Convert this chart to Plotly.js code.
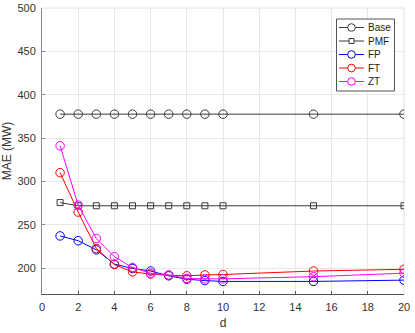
<!DOCTYPE html>
<html>
<head>
<meta charset="utf-8">
<script src="https://cdn.plot.ly/plotly-3.0.1.min.js"></script>
<style>html,body{margin:0;padding:0;background:#fff;}#chart{width:415px;height:333px;}</style>
</head>
<body>
<div id="chart"></div>
<script>
const dValues = [1, 2, 3, 4, 5, 6, 7, 8, 9, 10, 15, 20];
const baseMAE = [377.5, 377.5, 377.5, 377.5, 377.5, 377.5, 377.5, 377.5, 377.5, 377.5, 377.5, 377.5];
const pmfMAE  = [275.5, 271.8, 271.8, 271.8, 271.8, 271.8, 271.8, 271.8, 271.8, 271.8, 271.8, 271.8];
const fpMAE   = [237, 231.5, 221, 204.5, 199.5, 196.5, 191, 187, 185.5, 184.5, 184.5, 186];
const ftMAE   = [310, 264.5, 222.5, 204, 195.5, 193, 191.5, 191, 192, 192.5, 196.5, 198.5];
const ztMAE   = [341, 272.5, 234, 213, 200.5, 194, 192, 188, 187.5, 187.5, 190, 194];
const seriesNames = ['Base', 'PMF', 'FP', 'FT', 'ZT'];
const seriesColors = ['#3a3a3a', '#3a3a3a', '#0000ff', '#ff0000', '#ff00ff'];
const seriesSymbols = ['circle-open', 'square-open', 'circle-open', 'circle-open', 'circle-open'];
const xTicks = [0, 2, 4, 6, 8, 10, 12, 14, 16, 18, 20];
const yTicks = [200, 250, 300, 350, 400, 450, 500];

const FONT = 'Liberation Sans, Arial, sans-serif';
const W = 415, H = 333, ML = 42, MR = 11, MT = 8, MB = 39;
const PW = W - ML - MR, PH = H - MT - MB;
const px = v => (v - ML) / PW;
const py = v => (H - MB - v) / PH;

const allY = [baseMAE, pmfMAE, fpMAE, ftMAE, ztMAE];
const data = allY.map((y, i) => ({
  x: dValues, y: y, name: seriesNames[i], type: 'scatter', mode: 'lines+markers',
  showlegend: false,
  line: {color: seriesColors[i], width: 1},
  marker: {symbol: seriesSymbols[i], size: seriesSymbols[i] === 'square-open' ? 6 : 8.5,
           color: seriesColors[i], line: {width: 1}}
}));

// Custom compact legend (layout decoration)
const shapes = [
  {type: 'line', xref: 'paper', yref: 'paper', x0: 0, x1: 1, y0: 1, y1: 1, line: {color: '#e0e0e0', width: 1}, layer: 'below'},
  {type: 'line', xref: 'paper', yref: 'paper', x0: 1, x1: 1, y0: 0, y1: 1, line: {color: '#e0e0e0', width: 1}, layer: 'below'},
  {type: 'rect', xref: 'paper', yref: 'paper', x0: px(336.5), x1: px(394.5), y0: py(91), y1: py(19),
   fillcolor: '#ffffff', line: {color: '#555555', width: 1}, layer: 'above'}
];
const annotations = [];
const rowY = [27.5, 41, 54.5, 68, 81.5];
seriesNames.forEach((name, i) => {
  const yy = rowY[i];
  shapes.push({type: 'line', xref: 'paper', yref: 'paper', x0: px(339), x1: px(364), y0: py(yy), y1: py(yy),
               line: {color: seriesColors[i], width: 1}, layer: 'above'});
  const r = seriesSymbols[i] === 'square-open' ? 2.5 : 3.8;
  shapes.push({type: seriesSymbols[i] === 'square-open' ? 'rect' : 'circle', xref: 'paper', yref: 'paper',
               x0: px(351.5 - r), x1: px(351.5 + r), y0: py(yy + r), y1: py(yy - r),
               fillcolor: '#ffffff', line: {color: seriesColors[i], width: 1}, layer: 'above'});
  annotations.push({xref: 'paper', yref: 'paper', x: px(365.5), y: py(yy), xanchor: 'left', yanchor: 'middle',
                    text: name, showarrow: false, font: {family: FONT, size: 10, color: '#222'}});
});

const axisCommon = {
  showgrid: true, gridcolor: '#e8e8e8', gridwidth: 1,
  showline: true, linewidth: 1, mirror: false,
  ticks: 'inside', ticklen: 3,
  zeroline: false, tickfont: {family: FONT, size: 11, color: '#333333'}
};
const layout = {
  width: W, height: H,
  margin: {l: ML, r: MR, t: MT, b: MB},
  paper_bgcolor: '#fff', plot_bgcolor: '#fff',
  showlegend: false,
  xaxis: Object.assign({}, axisCommon, {
    range: [0, 20], tickvals: xTicks, linecolor: '#555555', tickcolor: '#555555', ticklabelstandoff: 3,
    title: {text: 'd', font: {family: FONT, size: 12, color: '#333333'}, standoff: 6}
  }),
  yaxis: Object.assign({}, axisCommon, {
    range: [170, 500], tickvals: yTicks, linecolor: '#888888', tickcolor: '#888888', ticklabelstandoff: 3,
    title: {text: 'MAE (MW)', font: {family: FONT, size: 12, color: '#333333'}, standoff: 3}
  }),
  shapes: shapes,
  annotations: annotations
};
Plotly.newPlot('chart', data, layout, {staticPlot: true, displayModeBar: false});
</script>
</body>
</html>
